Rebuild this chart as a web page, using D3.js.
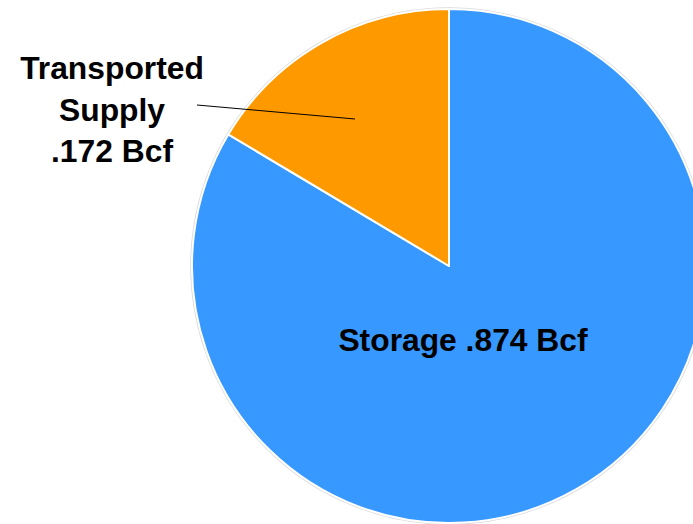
<!DOCTYPE html>
<html><head><meta charset="utf-8">
<script src="https://cdn.jsdelivr.net/npm/d3@7"></script>
<style>html,body{margin:0;padding:0;background:#fff;overflow:hidden}</style>
</head><body>
<svg id="c" width="693" height="524"></svg>
<script>
const categories = ["Storage", "Transported Supply"];
const values = [0.874, 0.172];
const labels = ["Storage .874 Bcf", ["Transported", "Supply", ".172 Bcf"]];
const colors = ["#3799FF", "#FF9900"];

const svg = d3.select("#c");
const cx = 449, cy = 266, r = 257;
const g = svg.append("g").attr("transform", `translate(${cx},${cy})`);

const pie = d3.pie().sort(null).value(d => d.v);
const data = pie(categories.map((c, i) => ({c, v: values[i], i})));
const arc = d3.arc().innerRadius(0).outerRadius(r);

g.append("circle").attr("r", r + 1).attr("fill", "none").attr("stroke", "#d9d9d9").attr("stroke-width", 1.5);
g.selectAll("path.s").data(data).enter().append("path")
  .attr("class", "s")
  .attr("d", arc)
  .attr("fill", d => colors[d.data.i])
  .attr("stroke", "#fff").attr("stroke-width", 2).attr("stroke-linejoin", "round");

const font = "'Liberation Sans', Arial, sans-serif";
// Storage label
svg.append("text").attr("x", 463).attr("y", 351)
  .attr("text-anchor", "middle").attr("font-family", font).attr("font-weight", "bold")
  .attr("font-size", 31.8).attr("fill", "#000").text(labels[0]);

// leader line
svg.append("line").attr("x1", 197).attr("y1", 105).attr("x2", 355).attr("y2", 119)
  .attr("stroke", "#000").attr("stroke-width", 1);

const t = svg.append("text").attr("text-anchor", "middle").attr("font-family", font)
  .attr("font-weight", "bold").attr("font-size", 31.8).attr("fill", "#000");
labels[1].forEach((s, i) => {
  t.append("tspan").attr("x", 112).attr("y", 79 + i * 41.5).text(s);
});
</script>
</body></html>
